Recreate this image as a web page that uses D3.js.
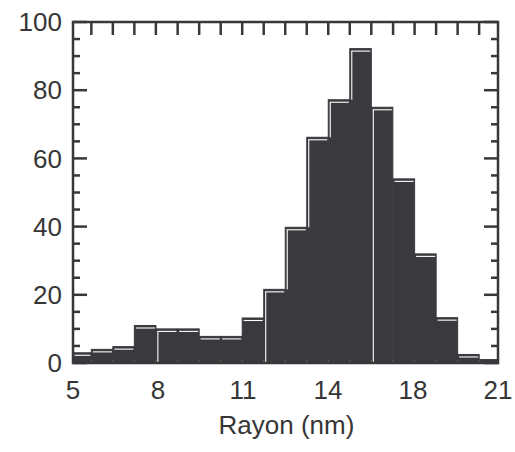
<!DOCTYPE html>
<html>
<head>
<meta charset="utf-8">
<script src="https://cdn.jsdelivr.net/npm/d3@7/dist/d3.min.js"></script>
<style>
  html, body { margin: 0; padding: 0; background: #fff; }
  svg { display: block; }
  text { font-family: "Liberation Sans", Arial, Helvetica, sans-serif; fill: #363636; }
</style>
</head>
<body>
<svg id="chart" width="515" height="452"></svg>
<script>
// ---- data ----
const binLower = [4.88, 5.69, 6.50, 7.31, 8.12, 8.94, 9.75, 10.56, 11.37, 12.18,
                  12.99, 13.80, 14.61, 15.42, 16.23, 17.05, 17.86, 18.67, 19.48, 20.29];
const binWidth = 0.811;
const counts = [3, 4, 4.8, 11, 10, 10, 7.8, 7.8, 13.2, 21.6,
                39.8, 66.2, 77.2, 92.2, 75, 54, 32, 13.3, 2.5, 1];
const xTickValues = [5, 8.2, 11.4, 14.6, 17.8, 21];
const xTickLabels = ["5", "8", "11", "14", "18", "21"];
const yTickValues = [0, 20, 40, 60, 80, 100];
const yMinorTicks = [5, 10, 15, 25, 30, 35, 45, 50, 55, 65, 70, 75, 85, 90, 95];
const fullWhiteEdges = [4, 9, 14];
const xLabel = "Rayon (nm)";

// ---- layout ----
const L = 73, R = 498, T = 22, B = 363;
const svg = d3.select("#chart");
const x = d3.scaleLinear().domain([5, 21]).range([L, R]);
const y = d3.scaleLinear().domain([0, 100]).range([B, T]);
const dark = "#3a393e";
const axisCol = "#38373b";

const bars = binLower.map((lo, i) => ({
  i, lo: Math.max(lo, 5), hi: Math.min(lo + binWidth, 21), v: counts[i]
}));

// bars
svg.append("g").selectAll("rect").data(bars).join("rect")
  .attr("x", d => x(d.lo))
  .attr("y", d => y(d.v))
  .attr("width", d => x(d.hi) - x(d.lo))
  .attr("height", d => B - y(d.v))
  .attr("fill", dark)
  .attr("stroke", dark)
  .attr("stroke-width", 1);

// white inner highlight lines
const wg = svg.append("g").attr("stroke", "#fff").attr("stroke-width", 1.1).attr("fill", "none");
bars.forEach((d, i) => {
  const top = y(d.v);
  const xl = x(d.lo), xr = x(d.hi);
  if (B - top > 4) {
    wg.append("line").attr("x1", xl + 1.5).attr("x2", xr - 1)
      .attr("y1", top + 2.5).attr("y2", top + 2.5);
  }
  if (i > 0) {
    const prevTop = y(counts[i - 1]);
    let yEnd = null;
    if (fullWhiteEdges.includes(i)) yEnd = B;
    else if (prevTop > top + 30) yEnd = prevTop;
    if (yEnd !== null) {
      wg.append("line").attr("x1", xl + 2).attr("x2", xl + 2)
        .attr("y1", top + 2.5).attr("y2", yEnd);
    }
  }
});

// faint bottom ticks at bin edges
svg.append("g").selectAll("line").data(bars.slice(1)).join("line")
  .attr("x1", d => x(d.lo)).attr("x2", d => x(d.lo))
  .attr("y1", B - 3).attr("y2", B)
  .attr("stroke", "#6a696e").attr("stroke-width", 0.8);

// frame
svg.append("rect").attr("x", L).attr("y", T).attr("width", R - L).attr("height", B - T)
  .attr("fill", "none").attr("stroke", axisCol).attr("stroke-width", 2.5);

// left & right ticks
const tg = svg.append("g").attr("stroke", axisCol).attr("stroke-width", 2.5);
yTickValues.forEach(v => {
  tg.append("line").attr("x1", L).attr("x2", L + 14).attr("y1", y(v)).attr("y2", y(v));
  tg.append("line").attr("x1", R).attr("x2", R - 14).attr("y1", y(v)).attr("y2", y(v));
});
yMinorTicks.forEach(v => {
  tg.append("line").attr("x1", L).attr("x2", L + 7).attr("y1", y(v)).attr("y2", y(v));
  tg.append("line").attr("x1", R).attr("x2", R - 7).attr("y1", y(v)).attr("y2", y(v));
});
// top ticks at bin edges
bars.slice(1).forEach(d => {
  tg.append("line").attr("x1", x(d.lo)).attr("x2", x(d.lo)).attr("y1", T).attr("y2", T + 13);
});

// y tick labels
svg.append("g").selectAll("text").data(yTickValues).join("text")
  .attr("x", 62).attr("y", d => y(d))
  .attr("dy", "0.35em")
  .attr("text-anchor", "end")
  .attr("font-size", 26)
  .text(d => d);

// x tick labels
svg.append("g").selectAll("text").data(xTickValues).join("text")
  .attr("x", d => x(d)).attr("y", 399)
  .attr("text-anchor", "middle")
  .attr("font-size", 26)
  .text((d, i) => xTickLabels[i]);

// x axis title
svg.append("text").attr("x", (L + R) / 2 + 1).attr("y", 434)
  .attr("text-anchor", "middle").attr("font-size", 26)
  .text(xLabel);
</script>
</body>
</html>
